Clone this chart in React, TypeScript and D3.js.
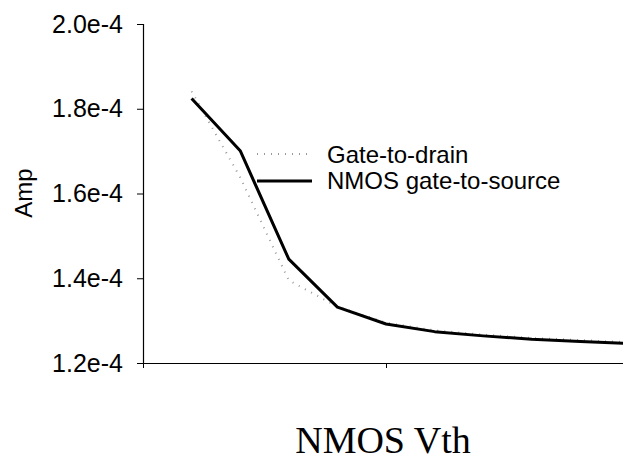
import React, { useRef, useEffect } from 'react'
import * as d3 from 'd3'

// x positions (no labels shown on the axis)
const vth = [0.2, 0.4, 0.6, 0.8, 1.0, 1.2, 1.4, 1.6, 1.8, 2.0]
// currents in Amp
const gateToDrain = [1.841e-4, 1.638e-4, 1.395e-4, 1.333e-4, 1.295e-4, 1.277e-4, 1.267e-4, 1.259e-4, 1.254e-4, 1.249e-4]
const gateToSource = [1.824e-4, 1.701e-4, 1.445e-4, 1.332e-4, 1.292e-4, 1.274e-4, 1.264e-4, 1.256e-4, 1.251e-4, 1.246e-4]
const yTicks = [1.2e-4, 1.4e-4, 1.6e-4, 1.8e-4, 2.0e-4]
const xTicks = [0, 1, 2]
const seriesNames = ['Gate-to-drain', 'NMOS gate-to-source']

const App = () => {
	const svgRef = useRef<SVGSVGElement | null>(null)

	const svgWidth = 623,
		svgHeight = 457

	useEffect(() => {
		const svg = d3.select(svgRef.current)
		svg.selectAll('*').remove()

		const x = d3.scaleLinear().domain([0, 2]).range([143, 629])
		const y = d3.scaleLinear().domain([1.2e-4, 2.0e-4]).range([363, 24])

		const sans = 'Arial, "Liberation Sans", sans-serif'

		// y axis
		const yAxis = d3
			.axisLeft(y)
			.tickValues(yTicks)
			.tickSize(6)
			.tickFormat((d) => (d as number).toExponential(1))
		const gy = svg.append('g').attr('transform', 'translate(143,0)').call(yAxis)
		gy.select('.domain').attr('stroke', '#000').attr('stroke-width', 1.2)
		gy.selectAll('.tick line').attr('stroke', '#000')
		gy.selectAll('.tick text')
			.attr('x', -20)
			.attr('font-family', sans)
			.attr('font-size', 25)
			.attr('fill', '#000')

		// x axis
		const xAxis = d3
			.axisBottom(x)
			.tickValues(xTicks)
			.tickSize(5)
			.tickSizeOuter(0)
			.tickFormat(() => '')
		const gx = svg.append('g').attr('transform', 'translate(0,363)').call(xAxis)
		gx.select('.domain').attr('stroke', '#000').attr('stroke-width', 1.2)
		gx.selectAll('.tick line').attr('stroke', '#000')

		const line = d3
			.line<number>()
			.x((d, i) => x(vth[i]))
			.y((d) => y(d))

		svg.append('path')
			.datum(gateToDrain)
			.attr('d', line)
			.attr('fill', 'none')
			.attr('stroke', '#999')
			.attr('stroke-width', 2)
			.attr('stroke-dasharray', '1,6')

		svg.append('path')
			.datum(gateToSource)
			.attr('d', line)
			.attr('fill', 'none')
			.attr('stroke', '#000')
			.attr('stroke-width', 3)
			.attr('stroke-linejoin', 'round')

		// legend
		const legend = svg.append('g').attr('transform', 'translate(257,154)')
		seriesNames.forEach((name, i) => {
			legend
				.append('line')
				.attr('x1', 0)
				.attr('x2', 55)
				.attr('y1', i * 27)
				.attr('y2', i * 27)
				.attr('stroke', i === 0 ? '#999' : '#000')
				.attr('stroke-width', i === 0 ? 2 : 3)
				.attr('stroke-dasharray', i === 0 ? '1,6' : null)
			legend
				.append('text')
				.attr('x', 70)
				.attr('y', i * 26 + 9)
				.attr('font-family', sans)
				.attr('font-size', 24)
				.attr('fill', '#000')
				.text(name)
		})

		// axis titles
		svg.append('text')
			.attr('transform', 'translate(32,193) rotate(-90)')
			.attr('text-anchor', 'middle')
			.attr('font-family', sans)
			.attr('font-size', 24)
			.attr('fill', '#000')
			.text('Amp')

		svg.append('text')
			.attr('x', 383)
			.attr('y', 453)
			.attr('text-anchor', 'middle')
			.attr('font-family', '"Times New Roman", "Liberation Serif", serif')
			.attr('font-size', 38)
			.attr('fill', '#000')
			.text('NMOS Vth')
	}, [])

	return (
		<svg
			ref={svgRef}
			width={svgWidth}
			height={svgHeight}
			style={{ position: 'absolute', left: 0, top: 0, background: '#fff' }}
		></svg>
	)
}

export default App
